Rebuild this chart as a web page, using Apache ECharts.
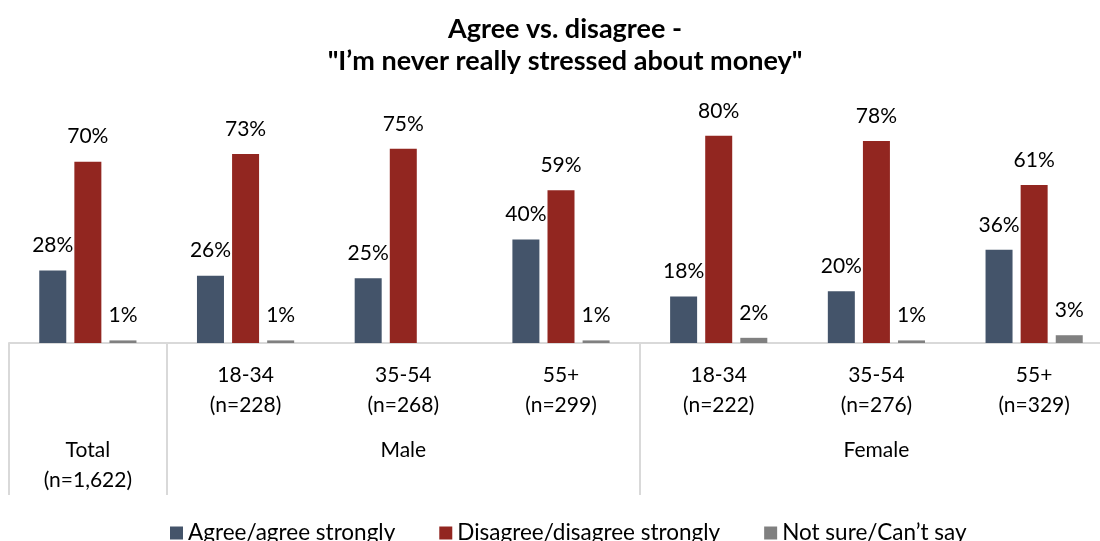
<!DOCTYPE html>
<html>
<head>
<meta charset="utf-8">
<script src="https://cdn.jsdelivr.net/npm/echarts@6/dist/echarts.min.js"></script>
<style>
  html, body { margin: 0; padding: 0; background: #fff; }
  #chart { width: 1100px; height: 541px; }
</style>
</head>
<body>
<div id="chart"></div>
<script>
// data
const categories = ['Total', 'Male 18-34', 'Male 35-54', 'Male 55+', 'Female 18-34', 'Female 35-54', 'Female 55+'];
const ageLabels = ['Total', '18-34', '35-54', '55+', '18-34', '35-54', '55+'];
const sampleSizes = ['n=1,622', 'n=228', 'n=268', 'n=299', 'n=222', 'n=276', 'n=329'];
const groupLabels = { 2: 'Male', 5: 'Female' };
const agree = [28, 26, 25, 40, 18, 20, 36];
const disagree = [70, 73, 75, 59, 80, 78, 61];
const notSure = [1, 1, null, 1, 2, 1, 3];
const seriesNames = ['Agree/agree strongly', 'Disagree/disagree strongly', 'Not sure/Can\u2019t say'];

const FONT = 'Lato';
const chart = echarts.init(document.getElementById('chart'));

const barLabel = {
  show: true,
  position: 'top',
  distance: 13,
  fontFamily: FONT,
  fontSize: 21,
  lineHeight: 24,
  color: '#000',
  formatter: p => p.value + '%'
};

function makeBar(name, data, color) {
  return {
    name: name,
    type: 'bar',
    data: data,
    barWidth: 27,
    barGap: '30%',
    itemStyle: { color: color },
    label: barLabel
  };
}

chart.setOption({
  animation: false,
  title: {
    text: 'Agree vs. disagree -\n"I\u2019m never really stressed about money"',
    left: 560,
    top: 8,
    textAlign: 'center',
    textStyle: {
      fontFamily: FONT,
      fontWeight: 'bold',
      fontSize: 27,
      lineHeight: 32,
      color: '#000'
    }
  },
  legend: {
    left: 165,
    top: 516,
    itemWidth: 13,
    itemHeight: 13,
    itemGap: 44,
    icon: 'rect',
    textStyle: { fontFamily: FONT, fontSize: 22.5, lineHeight: 24, color: '#000' },
    data: seriesNames
  },
  grid: {
    left: 9,
    width: 1104,
    top: 84,
    bottom: 198,
    containLabel: false,
    outerBoundsMode: 'none'
  },
  xAxis: {
    type: 'category',
    data: categories,
    axisLine: { lineStyle: { color: '#d9d9d9', width: 2 } },
    axisTick: {
      show: true,
      length: 152,
      interval: (idx) => idx === 0 || idx === 1 || idx === 4,
      lineStyle: { color: '#d9d9d9', width: 2 }
    },
    axisLabel: {
      interval: 0,
      margin: 17,
      formatter: function (value, index) {
        if (index === 0) {
          return '{gap| }\n{a|' + ageLabels[0] + '}\n{a|(' + sampleSizes[0] + ')}';
        }
        let s = '{a|' + ageLabels[index] + '}\n{a|(' + sampleSizes[index] + ')}';
        if (groupLabels[index]) {
          s += '\n{gap2| }\n{a|' + groupLabels[index] + '}';
        }
        return s;
      },
      rich: {
        a: { fontFamily: FONT, fontSize: 21, lineHeight: 30, color: '#000', align: 'center' },
        gap: { fontSize: 10, lineHeight: 75 },
        gap2: { fontSize: 10, lineHeight: 15 }
      }
    }
  },
  yAxis: {
    type: 'value',
    min: 0,
    max: 100,
    show: false,
    splitLine: { show: false }
  },
  series: [
    makeBar(seriesNames[0], agree, '#44546a'),
    makeBar(seriesNames[1], disagree, '#922620'),
    makeBar(seriesNames[2], notSure, '#808080')
  ]
});
</script>
</body>
</html>
